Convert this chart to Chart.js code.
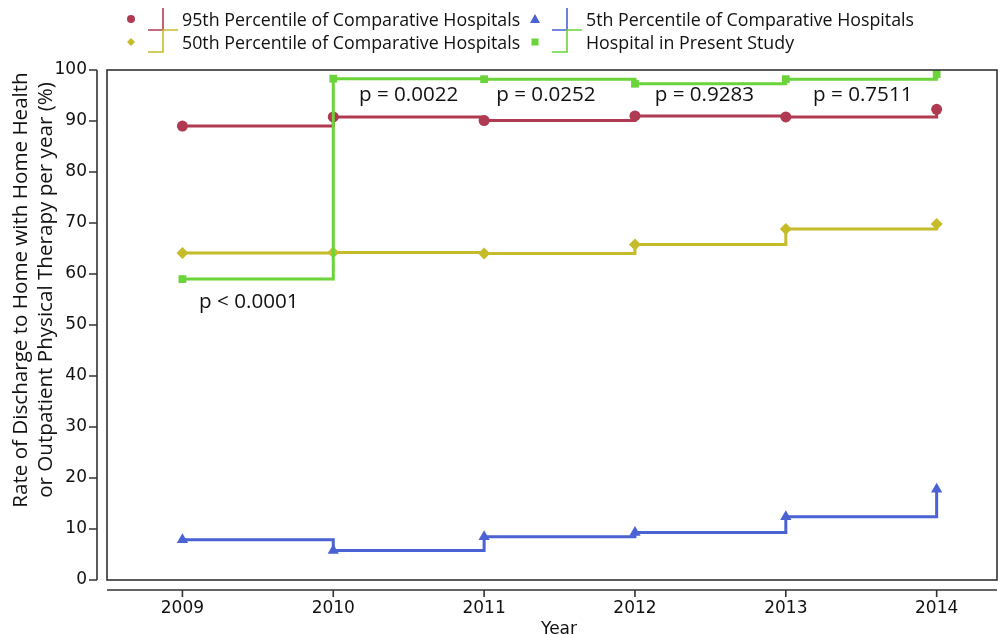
<!DOCTYPE html>
<html>
<head>
<meta charset="utf-8">
<script src="https://cdn.jsdelivr.net/npm/chart.js@4.4.1/dist/chart.umd.min.js"></script>
<style>
  html, body { margin: 0; padding: 0; background: #fff; }
  #wrap { position: relative; width: 998px; height: 635px; }
  #legend { position: absolute; left: 0; top: 0; }
</style>
</head>
<body>
<div id="wrap">
  <canvas id="chart" width="998" height="635"></canvas>
  <svg id="legend" width="998" height="60"></svg>
</div>
<script>
const years = [2009, 2010, 2011, 2012, 2013, 2014];
const p95 = [89.0, 90.8, 90.1, 91.0, 90.8, 92.3];
const p50 = [64.1, 64.2, 64.0, 65.8, 68.8, 69.8];
const p5 = [7.9, 5.8, 8.5, 9.3, 12.4, 17.8];
const hospital = [59.0, 98.3, 98.2, 97.3, 98.2, 99.2];

const seriesNames = [
  '95th Percentile of Comparative Hospitals',
  '50th Percentile of Comparative Hospitals',
  '5th Percentile of Comparative Hospitals',
  'Hospital in Present Study'
];
const colors = ['#b03a52', '#c6bc2a', '#4a62d4', '#6ad43a'];

const pLabels = ['p < 0.0001', 'p = 0.0022', 'p = 0.0252', 'p = 0.9283', 'p = 0.7511'];
const pX = [2009.44, 2010.5, 2011.41, 2012.46, 2013.51];
const pY = [54.5, 95.0, 95.0, 95.0, 95.0];

const yTitle = ['Rate of Discharge to Home with Home Health', 'or Outpatient Physical Therapy per year (%)'];

// legend (drawn as svg on top of the canvas)
const svg = document.getElementById('legend');
const NS = 'http://www.w3.org/2000/svg';
function el(tag, attrs) {
  const e = document.createElementNS(NS, tag);
  for (const k in attrs) e.setAttribute(k, attrs[k]);
  svg.appendChild(e);
  return e;
}
const legendPos = [[131, 19], [131, 42], [535, 19], [535, 42]];
legendPos.forEach(([mx, my], i) => {
  const c = colors[i];
  if (i === 0) el('circle', { cx: mx, cy: my, r: 4, fill: c });
  if (i === 1) el('path', { d: `M${mx} ${my - 4}L${mx + 4} ${my}L${mx} ${my + 4}L${mx - 4} ${my}Z`, fill: c });
  if (i === 2) el('path', { d: `M${mx} ${my - 5}L${mx + 5} ${my + 4}L${mx - 5} ${my + 4}Z`, fill: c });
  if (i === 3) el('rect', { x: mx - 3.5, y: my - 3.5, width: 7, height: 7, fill: c });
  const sx = mx + 17;
  const d = (i % 2 === 0)
    ? `M${sx} 30H${sx + 15}V8`
    : `M${sx} 52H${sx + 15}V30H${sx + 30}`;
  el('path', { d: d, fill: 'none', stroke: c, 'stroke-width': 1.6 });
  const t = el('text', { x: mx + 51, y: my, 'dominant-baseline': 'central',
    'font-family': 'Open Sans', 'font-size': 17.8, fill: '#111' });
  t.textContent = seriesNames[i];
});

const sasAxes = {
  id: 'sasAxes',
  afterDraw(chart) {
    const { ctx, chartArea: a, scales: { x, y } } = chart;
    ctx.save();
    ctx.strokeStyle = '#333';
    ctx.lineWidth = 1.6;
    ctx.strokeRect(a.left, a.top, a.right - a.left, a.bottom - a.top);
    ctx.beginPath();
    const ax = a.left - 10;
    ctx.moveTo(ax, a.top);
    ctx.lineTo(ax, a.bottom);
    y.ticks.forEach(t => {
      const py = y.getPixelForValue(t.value);
      ctx.moveTo(ax - 8, py);
      ctx.lineTo(ax, py);
    });
    const ay = a.bottom + 10;
    ctx.moveTo(a.left, ay);
    ctx.lineTo(a.right, ay);
    x.ticks.forEach(t => {
      const px = x.getPixelForValue(t.value);
      ctx.moveTo(px, ay);
      ctx.lineTo(px, ay + 7);
    });
    ctx.stroke();

    ctx.fillStyle = '#111';
    ctx.textAlign = 'center';
    ctx.textBaseline = 'middle';
    ctx.font = '20.6px "Open Sans"';
    pLabels.forEach((s, i) => {
      ctx.fillText(s, x.getPixelForValue(pX[i]), y.getPixelForValue(pY[i]));
    });

    ctx.font = '17px "DejaVu Sans"';
    ctx.fillText('Year', 559, 630);

    ctx.translate(21, 290);
    ctx.rotate(-Math.PI / 2);
    ctx.font = '20.6px "Open Sans"';
    ctx.fillText(yTitle[0], 0, 0);
    ctx.fillText(yTitle[1], 0, 25);
    ctx.restore();
  }
};

const toXY = vals => vals.map((v, i) => ({ x: years[i], y: v }));
const shapes = ['circle', 'rectRot', 'triangle', 'rect'];
const radii = [5.5, 6, 6.5, 5.5];
const series = [p95, p50, p5, hospital];

new Chart(document.getElementById('chart'), {
  type: 'line',
  data: {
    datasets: series.map((vals, i) => ({
      label: seriesNames[i],
      data: toXY(vals),
      stepped: true,
      borderColor: colors[i],
      backgroundColor: colors[i],
      borderWidth: 3,
      pointStyle: shapes[i],
      pointRadius: radii[i],
      pointBorderWidth: 0,
      pointBackgroundColor: colors[i],
      order: i === 3 ? 0 : i + 1
    }))
  },
  options: {
    responsive: false,
    animation: false,
    layout: { autoPadding: false, padding: { top: 70, right: 1, left: 0, bottom: 0 } },
    plugins: { legend: { display: false }, tooltip: { enabled: false } },
    scales: {
      x: {
        type: 'linear',
        min: 2008.5,
        max: 2014.4,
        grid: { display: false, drawTicks: false },
        border: { display: false },
        afterBuildTicks: s => { s.ticks = years.map(v => ({ value: v })); },
        afterFit: s => { s.height = 55; s.paddingLeft = 0; s.paddingRight = 0; },
        ticks: {
          font: { family: 'DejaVu Sans', size: 17 },
          color: '#111',
          padding: 18,
          maxRotation: 0,
          autoSkip: false,
          callback: v => String(v)
        }
      },
      y: {
        min: 0,
        max: 100,
        grid: { display: false, drawTicks: false },
        border: { display: false },
        afterFit: s => { s.width = 107; s.paddingTop = 0; s.paddingBottom = 0; },
        ticks: {
          stepSize: 10,
          font: { family: 'DejaVu Sans', size: 17 },
          color: '#111',
          padding: 20
        }
      }
    }
  },
  plugins: [sasAxes]
});
</script>
</body>
</html>
